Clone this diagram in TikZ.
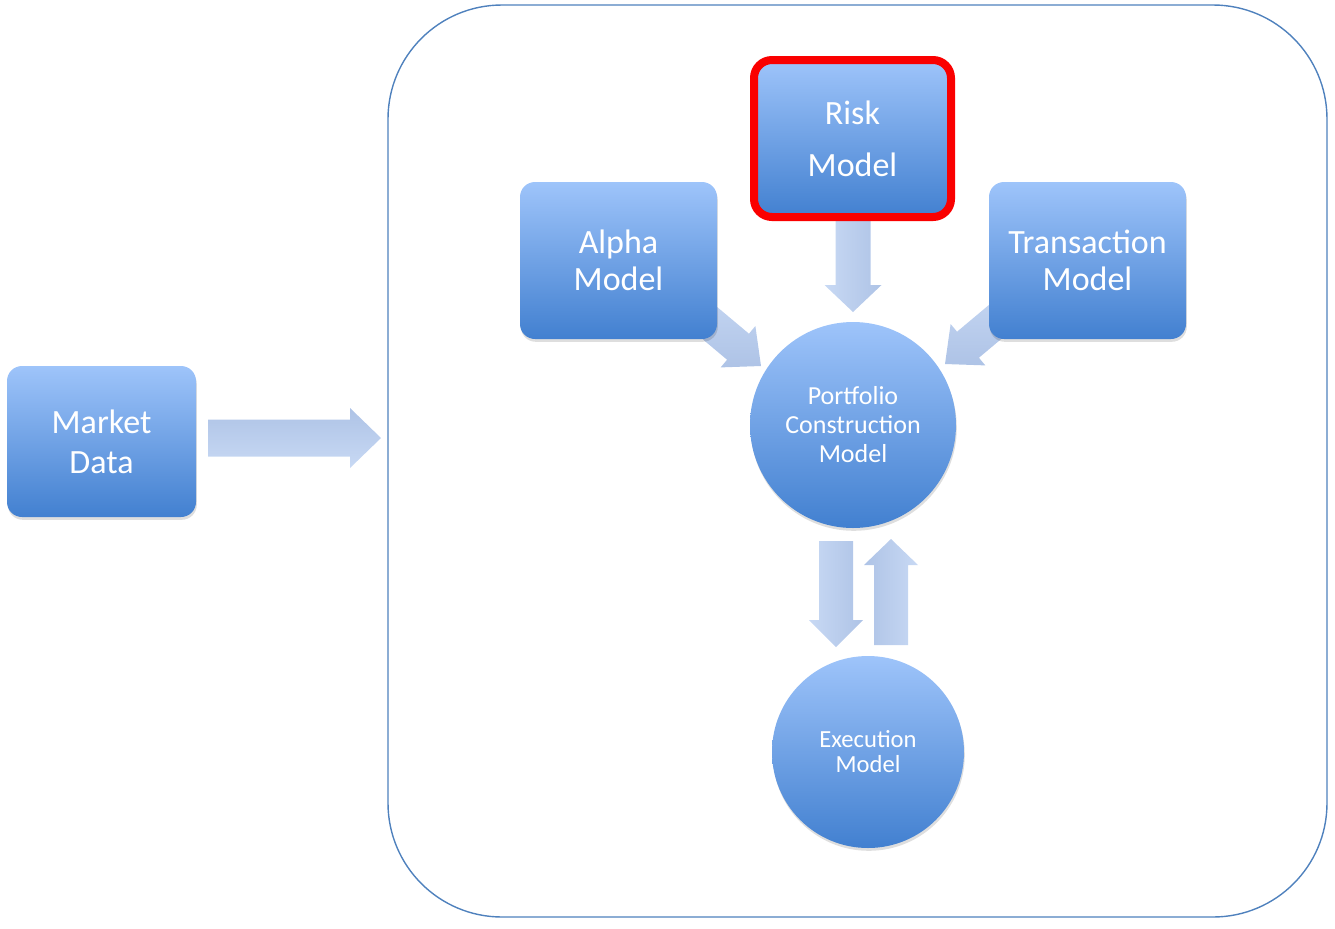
\documentclass[tikz,border=0pt]{standalone}
\usepackage{fontspec}
\setmainfont{Carlito}
\usetikzlibrary{shadows}
\definecolor{boxtop}{RGB}{158,196,250}
\definecolor{boxbot}{RGB}{66,128,208}
\definecolor{arrdark}{RGB}{174,195,230}
\definecolor{arrlight}{RGB}{200,217,244}
\definecolor{framecol}{RGB}{79,129,189}
\definecolor{riskred}{RGB}{250,0,0}
\tikzset{
  model/.style={text=white, align=center, inner sep=0pt,
    top color=boxtop, bottom color=boxbot,
    drop shadow={shadow xshift=0.4pt, shadow yshift=-1.4pt, opacity=0.13, fill=black}},
  squaremodel/.style={model, rectangle, rounded corners=7.5pt},
  bigbox/.style={squaremodel, minimum width=98.5pt, minimum height=78.5pt},
  roundmodel/.style={model, circle},
  container/.style={draw=framecol, line width=0.7pt, rounded corners=57pt},
}
\newcommand\blockarrow[7]{% tip, angle, length, head length, head half, shaft half, style
  \begin{scope}[shift={#1}, rotate=#2]
    \path[#7] (-#3,-#6) -- (-#4,-#6) -- (-#4,-#5) -- (0,0) -- (-#4,#5) -- (-#4,#6) -- (-#3,#6) -- cycle;
  \end{scope}}
\begin{document}
\begin{tikzpicture}[x=0.5pt,y=-0.5pt]
\useasboundingbox (0,0) rectangle (1335,928);
% container
\draw[container] (388,5) rectangle (1327,917);
% block arrows
\blockarrow{(381,438)}{0}{173}{31}{30}{18.5}{top color=arrdark, bottom color=arrlight}
\blockarrow{(853,312)}{-90}{95}{27}{28.5}{17.5}{left color=arrlight, right color=arrdark}
\blockarrow{(761,366)}{-40}{110}{30}{27}{17}{top color=arrlight, bottom color=arrdark}
\blockarrow{(945,364)}{-140}{110}{30}{27}{17}{top color=arrlight, bottom color=arrdark}
\blockarrow{(836,647)}{-90}{106}{27}{27}{17}{left color=arrlight, right color=arrdark}
\blockarrow{(891,539)}{90}{106}{26}{27}{17}{left color=arrdark, right color=arrlight}
% nodes
\node[squaremodel, minimum width=94.5pt, minimum height=75.5pt,
      font=\fontsize{17}{20}\selectfont] (market) at (101.5,441.5) {Market\\Data};
\node[bigbox, font=\fontsize{17}{18.5}\selectfont] (alpha) at (618.5,260.5) {Alpha\\Model};
\node[bigbox, font=\fontsize{17}{18.5}\selectfont] (trans) at (1087.5,260.5) {Transaction\\Model};
\node[bigbox, draw=riskred, line width=4pt, rounded corners=9pt,
      font=\fontsize{17}{26}\selectfont] (risk) at (852.5,138.5) {Risk\\Model};
\node[roundmodel, minimum size=103pt, font=\fontsize{13}{14.5}\selectfont] (port) at (853,425) {Portfolio\\Construction\\Model};
\node[roundmodel, minimum size=96pt, font=\fontsize{12.3}{12.5}\selectfont] (exec) at (868,752) {Execution\\Model};
\end{tikzpicture}
\end{document}
